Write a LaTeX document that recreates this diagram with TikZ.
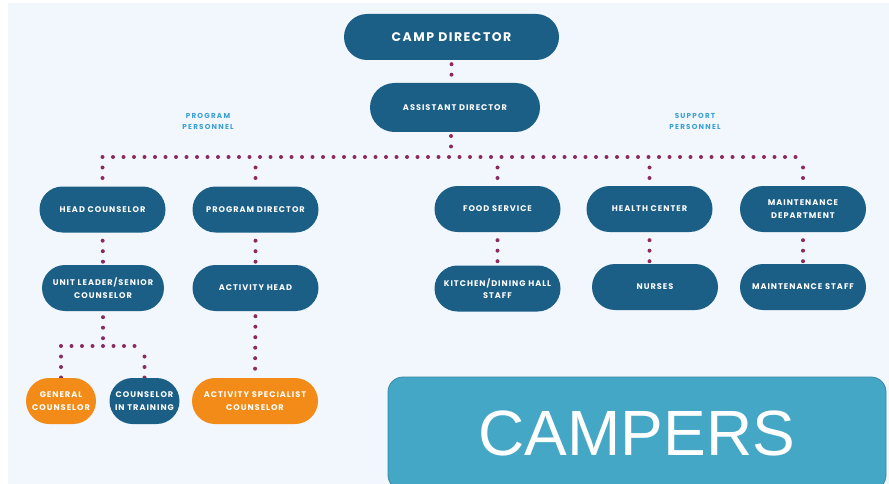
\documentclass[tikz,border=0pt]{standalone}
\usepackage{fontspec}
\setmainfont{Poppins}
\newfontfamily\labfont{Poppins}[LetterSpace=12]
\newfontfamily\smlfont{Poppins}[LetterSpace=17]
\newfontfamily\arialfont{Liberation Sans}
\definecolor{dblue}{HTML}{1B5E86}
\definecolor{orng}{HTML}{F38B18}
\definecolor{dotc}{HTML}{8B2A5E}
\definecolor{lblue}{HTML}{3B9FD4}
\definecolor{bgc}{HTML}{F1F7FC}
\definecolor{campc}{HTML}{44A7C5}
\definecolor{campb}{HTML}{3A86A4}
\pgfdeclarelayer{bg}
\pgfdeclarelayer{lines}
\pgfsetlayers{bg,lines,main}
\tikzset{
  box/.style={fill=dblue, text=white, rounded corners=23pt, minimum width=126pt, minimum height=46pt,
    align=center, inner sep=0pt, font=\labfont\bfseries\fontsize{8.2}{12.5}\selectfont},
  obox/.style={box, fill=orng},
  small/.style={minimum width=70pt},
  dots/.style={draw=dotc, line width=4pt, line cap=round, dash pattern=on 0pt off 10.5pt},
  grp/.style={text=lblue, align=center, font=\smlfont\bfseries\fontsize{7.2}{11}\selectfont}
}
\begin{document}
\begin{tikzpicture}[x=1pt,y=-1pt]
\useasboundingbox (0,0) rectangle (889,484);
\begin{pgfonlayer}{bg}
\fill[white] (0,0) rectangle (889,484);
\fill[bgc] (8,3) rectangle (889,484);
\end{pgfonlayer}
% nodes
\node[box, minimum width=215pt, font=\labfont\bfseries\fontsize{12.5}{14}\selectfont] (cd) at (451.5,37) {CAMP DIRECTOR};
\node[box, minimum width=170pt, minimum height=49pt, rounded corners=24.5pt] (ad) at (455,107.5) {ASSISTANT DIRECTOR};
\node[grp] (pp) at (208,121.5) {PROGRAM\\PERSONNEL};
\node[grp] (sp) at (695,121.5) {SUPPORT\\PERSONNEL};
\node[box] (hc) at (102.5,209.5) {HEAD COUNSELOR};
\node[box] (pd) at (255.5,209.5) {PROGRAM DIRECTOR};
\node[box] (fs) at (497.5,209) {FOOD SERVICE};
\node[box] (hcen) at (649.5,209) {HEALTH CENTER};
\node[box] (md) at (803,209) {MAINTENANCE\\DEPARTMENT};
\node[box, minimum width=122pt] (ul) at (103,288) {UNIT LEADER/SENIOR\\COUNSELOR};
\node[box] (ah) at (255.5,288) {ACTIVITY HEAD};
\node[box] (kd) at (497.5,288.5) {KITCHEN/DINING HALL\\STAFF};
\node[box] (nu) at (655,287) {NURSES};
\node[box] (ms) at (803,287) {MAINTENANCE STAFF};
\node[obox, small] (gc) at (61,401) {GENERAL\\COUNSELOR};
\node[box, small] (cit) at (144.5,401) {COUNSELOR\\IN TRAINING};
\node[obox] (asc) at (255,401) {ACTIVITY SPECIALIST\\COUNSELOR};
\node[fill=campc, draw=campb, line width=0.8pt, rounded corners=15pt, minimum width=498pt, minimum height=113pt,
  text=white, font=\arialfont\fontsize{64}{70}\selectfont, inner sep=0pt] (camp) at (637,433.5) {CAMPERS};
% connectors
\coordinate (bus) at (451,157);
\coordinate (j) at (103,346);
\begin{pgfonlayer}{lines}
\draw[dots, shorten <=4pt] (cd.south) -- (cd.south |- ad.north);
\draw[dots] (bus -| hc) -- (bus -| md);
\draw[dots, shorten <=10.5pt] (bus) -- (bus |- ad.south);
\foreach \n in {hc,pd,fs,hcen,md} {
  \draw[dots, shorten <=10.5pt] (bus -| \n) -- (\n.north);
}
\foreach \a/\b in {hc/ul,pd/ah,fs/kd,md/ms} {
  \draw[dots, shorten <=8pt] (\a.south) -- (\b.north);
}
\draw[dots, shorten <=8pt] (hcen.south) -- (hcen.south |- nu.north);
\draw[dots, shorten <=6pt] (ul.south) -- (j);
\draw[dots] (j -| gc) -- (j -| cit);
\draw[dots, shorten <=10.5pt] (j -| gc) -- (gc.north);
\draw[dots, shorten <=10.5pt] (j -| cit) -- (cit.north);
\draw[dots, shorten <=5pt] (ah.south) -- (asc.north);
\end{pgfonlayer}
\end{tikzpicture}
\end{document}
